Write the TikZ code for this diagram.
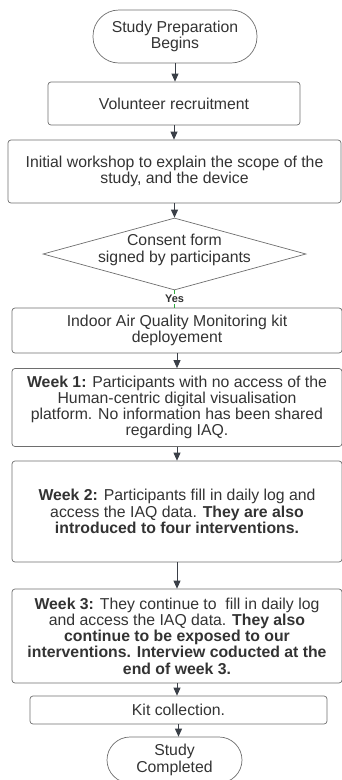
\documentclass[tikz,border=0pt]{standalone}
\usepackage{fontspec}
\setmainfont{Liberation Sans}
\usetikzlibrary{shapes.geometric,arrows.meta}
\definecolor{txt}{HTML}{333333}
\definecolor{edge}{HTML}{6E6E6E}
\definecolor{arrc}{HTML}{3A3F47}
\definecolor{yesg}{HTML}{2EAA3C}
\begin{document}
\begin{tikzpicture}[x=1pt,y=-1pt,
  base/.style={draw=edge, line width=0.7pt, align=center, inner sep=0pt, text=txt,
    font=\fontsize{15.8}{16.2}\selectfont},
  boxnode/.style={base, rounded corners=3pt},
  term/.style={base},
  arr/.style={draw=arrc, line width=0.9pt, -{Triangle[length=8pt,width=7pt]}},
]
\useasboundingbox (0,0) rectangle (342,780);
\node[term, rounded corners=26pt, minimum width=164pt, minimum height=53pt] (start) at (175,36.5) {Study Preparation\\Begins};
\node[boxnode, minimum width=252pt, minimum height=43pt] (vol) at (174,103.5) {Volunteer recruitment};
\node[boxnode, minimum width=333pt, minimum height=63pt] (work) at (174.5,171.5) {Initial workshop to explain the scope of the\\study, and the device};
\node[base, diamond, aspect=3.65, minimum width=263pt, minimum height=72pt] (consent) at (174.5,254) {};
\node[align=center, text=txt, inner sep=0pt, font=\fontsize{15.8}{16.2}\selectfont] (consenttxt) at (174.5,250) {Consent form\\signed by participants};
\node[boxnode, minimum width=330pt, minimum height=45pt] (kit) at (177,330.5) {Indoor Air Quality Monitoring kit\\deployement};
\node[boxnode, minimum width=330pt, minimum height=78pt] (w1) at (177,407.5) {\textbf{Week 1:} Participants with no access of the\\Human-centric digital visualisation\\platform. No information has been shared\\regarding IAQ.};
\node[boxnode, minimum width=330pt, minimum height=101pt] (w2) at (177,511.5) {\textbf{Week 2:} Participants fill in daily log and\\access the IAQ data. \textbf{They are also}\\\textbf{introduced to four interventions.}};
\node[boxnode, minimum width=330pt, minimum height=94pt] (w3) at (177,636) {\textbf{Week 3:} They continue to\ \ fill in daily log\\and access the IAQ data. \textbf{They also}\\\textbf{continue to be exposed to our}\\\textbf{interventions. Interview coducted at the}\\\textbf{end of week 3.}};
\node[boxnode, minimum width=297pt, minimum height=28pt] (coll) at (178.5,710) {Kit collection.};
\node[term, rounded corners=23pt, minimum width=135pt, minimum height=46pt] (stop) at (174.5,760) {Study\\Completed};

\draw[arr] (start.south) -- (start.south |- vol.north);
\draw[arr] (vol.south) -- (vol.south |- work.north);
\draw[arr] (work.south) -- (work.south |- consent.north);
\draw[yesg, line width=0.8pt] (consent.south) -- (consent.south |- kit.north)
  node[midway, fill=white, text=txt, inner sep=1.5pt, font=\fontsize{11}{12}\selectfont\bfseries] (yes) {Yes};
\draw[arr] (kit.south) -- (kit.south |- w1.north);
\draw[arr] (w1.south) -- (w1.south |- w2.north);
\draw[arr] (w2.south) -- (w2.south |- w3.north);
\draw[arr] (w3.south) -- (w3.south |- coll.north);
\draw[arr] (coll.south) -- (coll.south |- stop.north);
\end{tikzpicture}
\end{document}
